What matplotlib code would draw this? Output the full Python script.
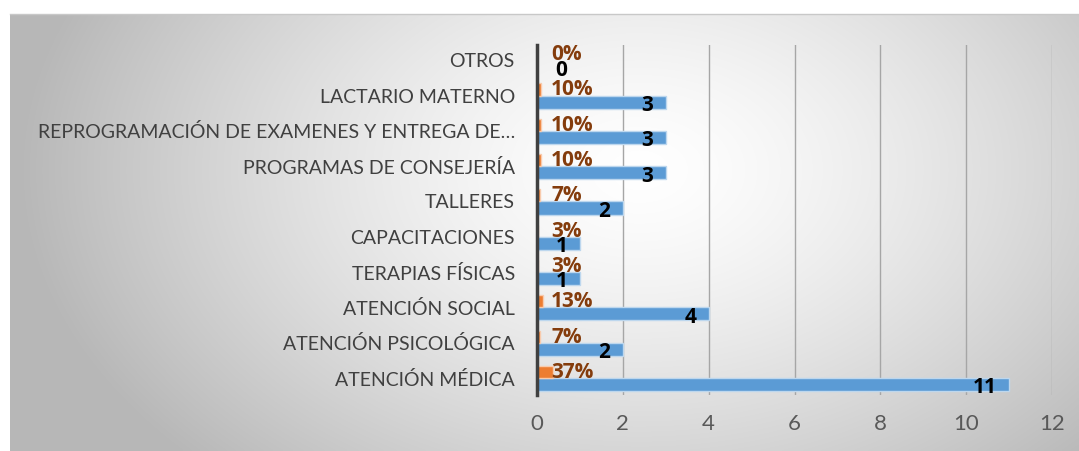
import matplotlib
matplotlib.use('Agg')
import matplotlib.pyplot as plt
import numpy as np

categorias = ['ATENCIÓN MÉDICA', 'ATENCIÓN PSICOLÓGICA', 'ATENCIÓN SOCIAL',
              'TERAPIAS FÍSICAS', 'CAPACITACIONES', 'TALLERES',
              'PROGRAMAS DE CONSEJERÍA',
              'REPROGRAMACIÓN DE EXAMENES Y ENTREGA DE…',
              'LACTARIO MATERNO', 'OTROS']
cantidad = [11, 2, 4, 1, 1, 2, 3, 3, 3, 0]
porcentaje = [0.37, 0.07, 0.13, 0.03, 0.03, 0.07, 0.10, 0.10, 0.10, 0.0]
ticks_x = [0, 2, 4, 6, 8, 10, 12]

plt.rcParams['font.family'] = ['Lato', 'DejaVu Sans']

W, H = 1079, 451
fig = plt.figure(figsize=(W / 100, H / 100), dpi=100)
fig.set_facecolor('white')

# Fondo con degradado radial
bg = fig.add_axes([10 / W, 0, 1 - 10 / W, (H - 14) / H])
xx, yy = np.meshgrid(np.linspace(10, W, 400), np.linspace(14, H, 200))
d = np.sqrt(((xx - 640) / 620) ** 2 + ((yy - 170) / 420) ** 2)
d = np.clip(d, 0, 1) ** 1.4
val = 1.0 - 0.28 * d
bg.imshow(np.dstack([val, val, val]), aspect='auto', extent=[0, 1, 0, 1],
          origin='upper', interpolation='bilinear')
bg.set_xlim(0, 1)
bg.set_ylim(0, 1)
bg.axis('off')
fig.add_artist(plt.Line2D([10 / W, 1], [(H - 14) / H, (H - 14) / H],
                          color='#C8C8C8', lw=1.0))

ax = fig.add_axes([537 / W, 1 - 395 / H, 515 / W, 350 / H])
ax.set_facecolor('none')

y = np.arange(len(categorias))
ax.barh(y, cantidad, height=-0.37, align='edge', color='#5B9BD5',
        edgecolor='#BDD7EE', linewidth=1.0, zorder=3)
ax.barh(y, porcentaje, height=0.34, align='edge', color='#ED7D31',
        edgecolor='#F8CBAD', linewidth=1.0, zorder=3)

fuente_negrita = ['Open Sans', 'DejaVu Sans']
for i in range(len(categorias)):
    ax.annotate(f'{porcentaje[i]:.0%}', xy=(0.33, y[i] + 0.16), xytext=(0, 0),
                textcoords='offset points', ha='left', va='center',
                fontsize=15, fontweight='bold', color='#843C0C', zorder=5,
                family=fuente_negrita)
    ax.annotate(str(cantidad[i]), xy=(max(cantidad[i], 1), y[i] - 0.28),
                xytext=(-9, 0), textcoords='offset points', ha='right',
                va='center', fontsize=15, fontweight='bold', color='black',
                zorder=5, family=fuente_negrita)

ax.set_xlim(0, 12)
ax.set_ylim(-0.48, 9.43)
ax.set_xticks(ticks_x)
ax.set_yticks(y)
ax.set_yticklabels(categorias)
ax.tick_params(axis='y', length=0, pad=16, labelsize=14, labelcolor='#404040')
ax.tick_params(axis='x', length=0, pad=14, labelsize=16, labelcolor='#595959')
ax.grid(axis='x', color='#A6A6A6', linewidth=1.0, zorder=0)
ax.set_axisbelow(True)
for s in ['top', 'right', 'bottom']:
    ax.spines[s].set_visible(False)
ax.spines['left'].set_color('#404040')
ax.spines['left'].set_linewidth(2.5)
ax.spines['left'].set_zorder(6)

fig.savefig('out.png', dpi=100)
